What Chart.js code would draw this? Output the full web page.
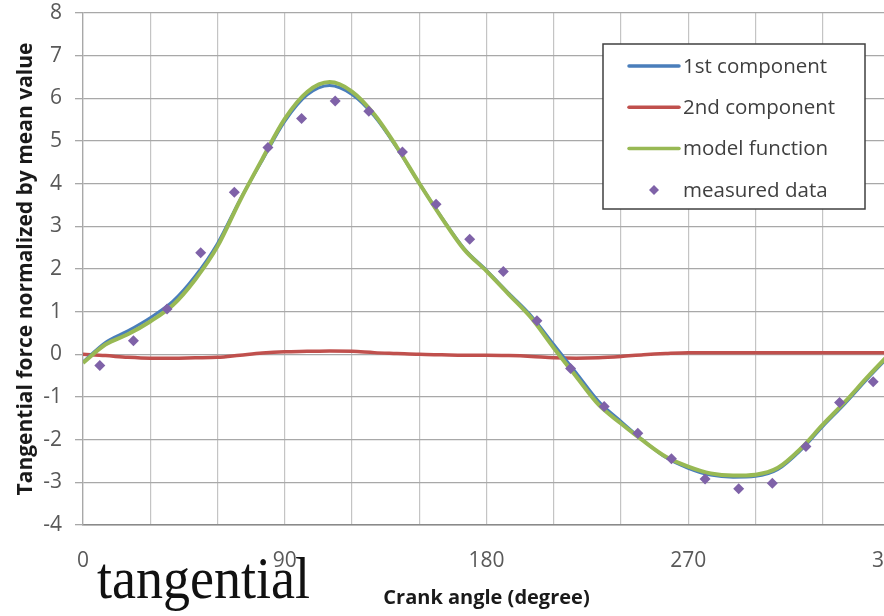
<!DOCTYPE html>
<html><head><meta charset="utf-8">
<script src="https://cdn.jsdelivr.net/npm/chart.js@4.4.0/dist/chart.umd.min.js"></script>
<style>
html,body{margin:0;padding:0;background:#fff;overflow:hidden;width:884px;height:616px;}
#wrap{position:absolute;left:0;top:0;width:900px;height:616px;}
#note{position:absolute;left:97px;top:548px;font-family:"Liberation Serif",serif;font-size:60px;line-height:60px;transform-origin:left top;transform:scaleX(0.9);color:#111;white-space:nowrap;}
</style></head>
<body>
<div id="wrap"><canvas id="c" width="900" height="616"></canvas></div>
<div id="note">tangential</div>
<script>
// Crank angle (degree) sample positions for the fitted curves
const angles = [0,10,20,30,40,50,60,70,80,90,100,110,120,130,140,150,160,170,180,190,200,210,220,230,240,250,260,270,280,290,300,310,320,330,340,350,360];
const firstComponent = [-0.18,0.28,0.55,0.86,1.24,1.83,2.60,3.62,4.55,5.46,6.08,6.30,6.09,5.58,4.84,4.01,3.21,2.48,1.97,1.43,0.90,0.23,-0.43,-1.10,-1.57,-2.02,-2.42,-2.67,-2.83,-2.88,-2.86,-2.70,-2.26,-1.69,-1.15,-0.57,-0.02];
const secondComponent = [0.00,-0.03,-0.07,-0.09,-0.09,-0.08,-0.07,-0.02,0.03,0.06,0.07,0.08,0.07,0.04,0.02,0.00,-0.01,-0.02,-0.02,-0.03,-0.05,-0.08,-0.09,-0.08,-0.05,-0.01,0.02,0.04,0.04,0.04,0.04,0.04,0.04,0.04,0.04,0.04,0.04];
const modelFunction = [-0.20,0.23,0.47,0.77,1.15,1.75,2.53,3.60,4.58,5.52,6.15,6.38,6.16,5.62,4.86,4.01,3.20,2.46,1.95,1.40,0.85,0.15,-0.52,-1.18,-1.62,-2.03,-2.40,-2.63,-2.79,-2.84,-2.82,-2.66,-2.22,-1.65,-1.11,-0.53,0.02];
const measuredAngles = [7.5,22.5,37.5,52.5,67.5,82.5,97.5,112.5,127.5,142.5,157.5,172.5,187.5,202.5,217.5,232.5,247.5,262.5,277.5,292.5,307.5,322.5,337.5,352.5];
const measuredData = [-0.26,0.32,1.06,2.38,3.80,4.85,5.53,5.94,5.70,4.74,3.52,2.70,1.94,0.79,-0.33,-1.22,-1.85,-2.45,-2.92,-3.15,-3.02,-2.16,-1.13,-0.64];
const xLabelTicks = [0,90,180,270,360];
const seriesNames = ['1st component','2nd component','model function','measured data'];

const pts = (xs, ys) => xs.map((x, i) => ({x: x, y: ys[i]}));
const FONT = '"Open Sans", sans-serif';

const legendPlugin = {
  id: 'boxLegend',
  afterDraw(chart) {
    const ctx = chart.ctx;
    const bx = 603, by = 44, bw = 262, bh = 165;
    ctx.save();
    ctx.fillStyle = '#fff';
    ctx.fillRect(bx, by, bw, bh);
    ctx.strokeStyle = '#404040';
    ctx.lineWidth = 1.5;
    ctx.strokeRect(bx, by, bw, bh);
    const ds = chart.data.datasets;
    const orderIdx = [1, 3, 2, 0]; // dataset index for each legend row
    ctx.font = '20.5px ' + FONT;
    ctx.textBaseline = 'middle';
    orderIdx.forEach((di, r) => {
      const d = ds[di];
      const y = 66 + r * 41.3;
      if (d.type === 'scatter') {
        ctx.fillStyle = d.backgroundColor;
        ctx.beginPath();
        ctx.moveTo(654, y - 5); ctx.lineTo(659, y); ctx.lineTo(654, y + 5); ctx.lineTo(649, y);
        ctx.closePath(); ctx.fill();
      } else {
        ctx.strokeStyle = d.borderColor;
        ctx.lineWidth = 3.5;
        ctx.lineCap = 'round';
        ctx.beginPath(); ctx.moveTo(629, y); ctx.lineTo(679, y); ctx.stroke();
      }
      ctx.fillStyle = '#404040';
      ctx.fillText(d.label, 683, y + 1);
    });
    ctx.restore();
  }
};

new Chart(document.getElementById('c'), {
  type: 'line',
  data: {
    datasets: [
      {type: 'scatter', label: seriesNames[3], data: pts(measuredAngles, measuredData), backgroundColor: '#7f62a8', borderWidth: 0, pointStyle: 'rectRot', pointRadius: 5.5, order: 0},
      {label: seriesNames[0], data: pts(angles, firstComponent), borderColor: '#4a7ebb', borderWidth: 3, pointRadius: 0, cubicInterpolationMode: 'monotone', order: 2},
      {label: seriesNames[2], data: pts(angles, modelFunction), borderColor: '#98b954', borderWidth: 4, pointRadius: 0, cubicInterpolationMode: 'monotone', order: 1},
      {label: seriesNames[1], data: pts(angles, secondComponent), borderColor: '#c0504d', borderWidth: 3.5, pointRadius: 0, cubicInterpolationMode: 'monotone', order: 3}
    ]
  },
  options: {
    responsive: false,
    animation: false,
    layout: {padding: {top: 13, right: 10, left: 0, bottom: 0}},
    plugins: {legend: {display: false}, tooltip: {enabled: false}},
    scales: {
      x: {
        type: 'linear', min: 0, max: 360,
        afterBuildTicks(scale) { const t = []; for (let v = 0; v <= 360; v += 30) t.push({value: v}); scale.ticks = t; },
        afterFit(scale) { scale.height = 91; scale.paddingRight = 0; scale.paddingLeft = 0; },
        ticks: {
          callback: (v) => xLabelTicks.includes(v) ? String(v) : '',
          font: {family: FONT, size: 21}, color: '#595959', padding: 23, maxRotation: 0, autoSkip: false
        },
        grid: {color: '#c4c4c4', lineWidth: 1.2, drawTicks: false},
        border: {display: true, color: '#8a8a8a', width: 1.5},
        title: {display: true, text: 'Crank angle (degree)', font: {family: FONT, size: 20, weight: 'bold'}, color: '#1a1a1a', padding: {top: 0, bottom: 6}}
      },
      y: {
        min: -4, max: 8,
        afterFit(scale) { scale.width = 83; scale.paddingTop = 0; scale.paddingBottom = 0; },
        ticks: {stepSize: 1, font: {family: FONT, size: 21}, color: '#595959', padding: 13},
        grid: {color: '#a8a8a8', lineWidth: 1.3, tickLength: 8},
        border: {display: true, color: '#a8a8a8', width: 1.3},
        title: {display: true, text: 'Tangential force normalized by mean value', font: {family: FONT, size: 21, weight: 'bold'}, color: '#1a1a1a', padding: {top: 13, bottom: 0}}
      }
    }
  },
  plugins: [legendPlugin]
});
</script>
</body></html>
